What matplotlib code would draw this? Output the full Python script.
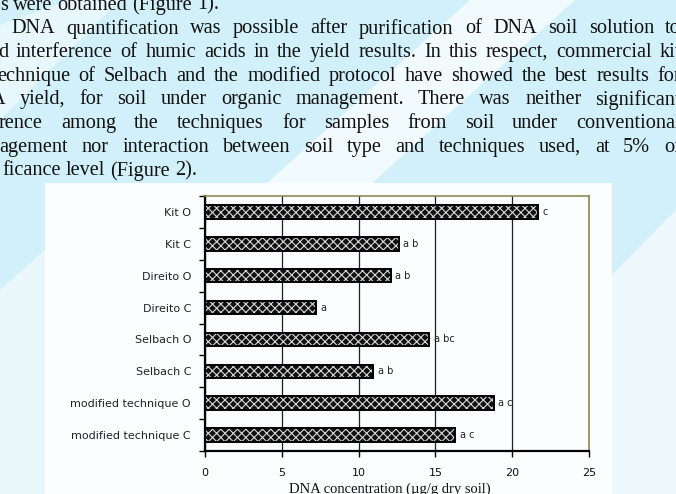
import numpy as np
import matplotlib.pyplot as plt
from matplotlib.patches import Polygon

categories = ["Kit O", "Kit C", "Direito O", "Direito C", "Selbach O", "Selbach C",
              "modified technique O", "modified technique C"]
dna_conc = [21.7, 12.6, 12.1, 7.2, 14.6, 10.95, 18.8, 16.3]
letters = ["c", "a b", "a b", "a", "a bc", "a b", "a c", "a c"]
x_ticks = [0, 5, 10, 15, 20, 25]

paragraph = [
    "s were obtained (Figure 1).",
    "DNA quantification was possible after purification of DNA soil solution to",
    "d interference of humic acids in the yield results. In this respect, commercial kit",
    "echnique of Selbach and the modified protocol have showed the best results for",
    "A yield, for soil under organic management. There was neither significant",
    "rence among the techniques for samples from soil under conventional",
    "agement nor interaction between soil type and techniques used, at 5% of",
    "ficance level (Figure 2).",
]
line_start = [0, 11, -2, -3, -9, -1, -1, 2]
justified = [False, True, True, True, True, True, True, False]

W, H = 676, 494
fig = plt.figure(figsize=(W / 100, H / 100), dpi=100, facecolor="#d2f0fa")


def px_poly(pts):
    return [(x / W, 1 - y / H) for x, y in pts]


# page background: light cyan watermark with white stripes and white chart panel
bg = [
    ([(470, 0), (575, 0), (370, 185), (265, 185)], 0.7),
    ([(0, 25), (70, 0), (120, 0), (0, 120)], 0.5),
    ([(45, 183), (612, 183), (612, 494), (45, 494)], 0.93),
    ([(0, 290), (45, 250), (45, 494), (0, 494)], 0.55),
    ([(612, 275), (676, 210), (676, 494), (612, 494)], 0.6),
]
for pts, a in bg:
    fig.patches.append(Polygon(px_poly(pts), closed=True, transform=fig.transFigure,
                               facecolor="white", alpha=a, lw=0, zorder=-5))

# paragraph text, justified like the scanned page
renderer = fig.canvas.get_renderer()
fs = 14.6
for i, line in enumerate(paragraph):
    y_px = 5 + i * 23.7
    words = line.split()
    objs = [fig.text(0, 1 - y_px / H, w, fontsize=fs, family="Liberation Serif",
                     color="#111111", va="center", ha="left") for w in words]
    widths = [o.get_window_extent(renderer).width for o in objs]
    if justified[i]:
        gap = (681 - line_start[i] - sum(widths)) / (len(words) - 1)
    else:
        gap = fs * 100 / 72 * 0.25
    x = line_start[i]
    for o, w in zip(objs, widths):
        o.set_x(x / W)
        x += w + gap

# chart
plt.rcParams["hatch.linewidth"] = 0.8
ax = fig.add_axes([205 / W, 1 - 451 / H, (589 - 205) / W, (451 - 196) / H])
ax.set_facecolor("none")
ax.set_axisbelow(True)

y = np.arange(len(categories))
ax.barh(y, dna_conc, height=0.42, color="#101010", edgecolor="#d8d8d8",
        hatch="xxxx", lw=0, zorder=3)
ax.barh(y, dna_conc, height=0.42, fill=False, edgecolor="black", lw=1.4, zorder=4)

for v, yy, lab in zip(dna_conc, y, letters):
    ax.text(v + 0.3, yy, lab, va="center", ha="left", fontsize=7,
            family="DejaVu Sans", color="#222222")

ax.set_xlim(0, 25)
ax.set_ylim(len(categories) - 0.5, -0.5)
ax.set_xticks(x_ticks)
ax.set_yticks(y, categories)
ax.set_yticks(np.arange(-0.5, len(categories)), minor=True)
ax.tick_params(axis="y", which="major", length=0, pad=10, labelsize=8, labelcolor="#222222")
ax.tick_params(axis="y", which="minor", length=4, width=1, direction="out")
ax.tick_params(axis="x", length=4, width=1, direction="out", pad=8, labelsize=8,
               labelcolor="#111111")
for lab in ax.get_xticklabels() + ax.get_yticklabels():
    lab.set_family("DejaVu Sans")

ax.xaxis.grid(True, color="#1e1e1e", lw=0.9)
for s in ["left", "bottom"]:
    ax.spines[s].set_linewidth(1.6)
    ax.spines[s].set_color("black")
for s in ["top", "right"]:
    ax.spines[s].set_linewidth(1.2)
    ax.spines[s].set_color("#8c8c55")

fig.text(390 / W, 1 - 483 / H, "DNA concentration (µg/g dry soil)", fontsize=10.5,
         family="Liberation Serif", ha="center", va="top", color="#111111")

fig.savefig("out.png", dpi=100, facecolor=fig.get_facecolor())
